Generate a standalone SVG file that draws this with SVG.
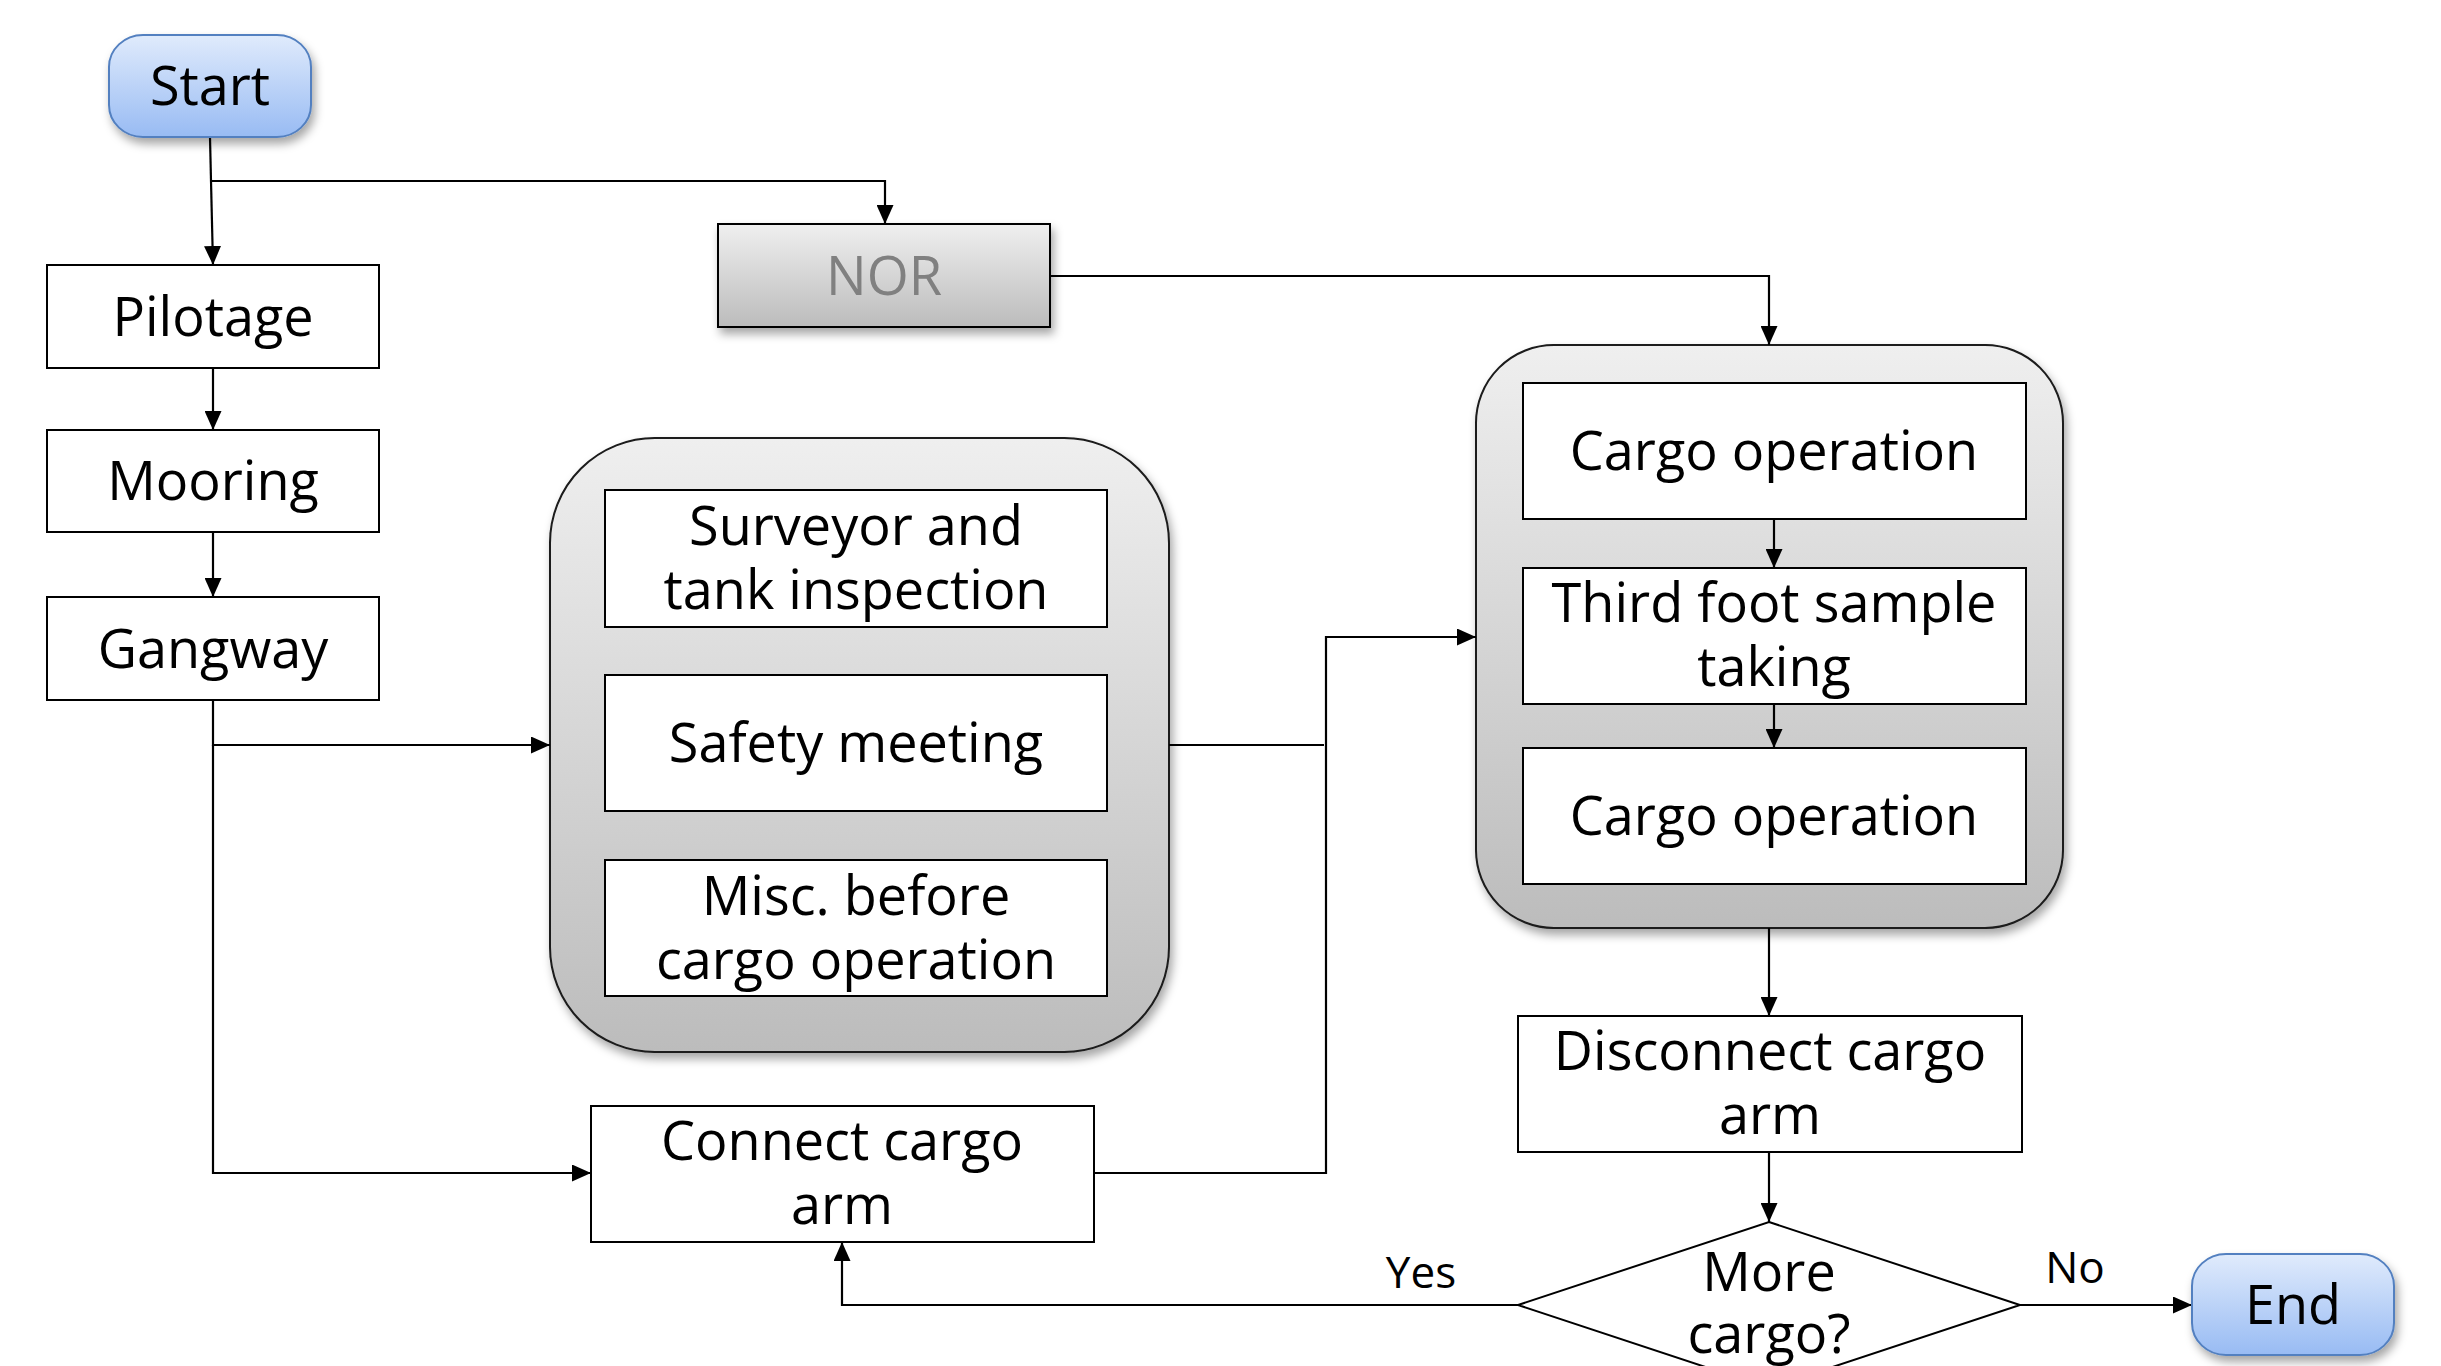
<svg xmlns="http://www.w3.org/2000/svg" width="2441" height="1366" viewBox="0 0 2441 1366">
<defs>
<linearGradient id="gBlue" x1="0" y1="0" x2="0" y2="1"><stop offset="0" stop-color="#e0ebfc"/><stop offset="1" stop-color="#98bbf3"/></linearGradient>
<linearGradient id="gGray" x1="0" y1="0" x2="0" y2="1"><stop offset="0" stop-color="#efefef"/><stop offset="1" stop-color="#bcbcbc"/></linearGradient>
<filter id="sh" x="-10%" y="-10%" width="125%" height="130%"><feDropShadow dx="3" dy="6" stdDeviation="5" flood-color="#000" flood-opacity="0.35"/></filter>
<marker id="arr" viewBox="0 0 19 17" refX="19" refY="8.5" markerWidth="19" markerHeight="17" markerUnits="userSpaceOnUse" orient="auto"><path d="M0,0 L19,8.5 L0,17 Z" fill="#000"/></marker>
</defs>
<style>
.t{font-family:"Open Sans","Liberation Sans",sans-serif;font-size:54px;fill:#000;text-anchor:middle}
.lbl{font-family:"Open Sans","Liberation Sans",sans-serif;font-size:44px;fill:#000;text-anchor:middle}
.box{fill:#fff;stroke:#000;stroke-width:2}
.grp{fill:url(#gGray);stroke:#1a1a1a;stroke-width:2;filter:url(#sh)}
.term{fill:url(#gBlue);stroke:#5380c0;stroke-width:2;filter:url(#sh)}
.c{fill:none;stroke:#000;stroke-width:2.2}
.a{marker-end:url(#arr)}
</style>
<rect width="2441" height="1366" fill="#fff"/>

<g id="group-before">
<rect class="grp" x="550" y="438" width="619" height="614" rx="105" ry="105"/>
</g>
<g id="group-cargo">
<rect class="grp" x="1476" y="345" width="587" height="583" rx="78" ry="78"/>
</g>

<g id="connectors">
<path class="c" d="M210,137 L211,181"/>
<path class="c a" d="M211,181 L213,265"/>
<path class="c a" d="M211,181 L885,181 L885,224"/>
<path class="c a" d="M1050,276 L1769,276 L1769,345"/>
<path class="c a" d="M213,368 L213,430"/>
<path class="c a" d="M213,532 L213,597"/>
<path class="c a" d="M213,700 L213,745 L550,745"/>
<path class="c a" d="M213,745 L213,1173 L591,1173"/>
<path class="c" d="M1169,745 L1324,745"/>
<path class="c a" d="M1094,1173 L1326,1173 L1326,637 L1476,637"/>
<path class="c a" d="M1774,519 L1774,568"/>
<path class="c a" d="M1774,704 L1774,748"/>
<path class="c a" d="M1769,928 L1769,1016"/>
<path class="c a" d="M1769,1152 L1769,1222"/>
<path class="c a" d="M1518,1305 L842,1305 L842,1242"/>
<path class="c a" d="M2020,1305 L2192,1305"/>
</g>

<g id="start">
<rect class="term" x="109" y="35" width="202" height="102" rx="34" ry="32"/>
<text class="t" x="210" y="105">Start</text>
</g>
<g id="pilotage">
<rect class="box" x="47" y="265" width="332" height="103"/>
<text class="t" x="213" y="336">Pilotage</text>
</g>
<g id="nor">
<rect x="718" y="224" width="332" height="103" fill="url(#gGray)" stroke="#000" stroke-width="2" filter="url(#sh)"/>
<text class="t" x="884" y="295" style="fill:#808080">NOR</text>
</g>
<g id="mooring">
<rect class="box" x="47" y="430" width="332" height="102"/>
<text class="t" x="213" y="500">Mooring</text>
</g>
<g id="gangway">
<rect class="box" x="47" y="597" width="332" height="103"/>
<text class="t" x="213" y="668">Gangway</text>
</g>
<g id="surveyor">
<rect class="box" x="605" y="490" width="502" height="137"/>
<text class="t" x="856" y="545">Surveyor and<tspan x="856" dy="64">tank inspection</tspan></text>
</g>
<g id="safety">
<rect class="box" x="605" y="675" width="502" height="136"/>
<text class="t" x="856" y="762">Safety meeting</text>
</g>
<g id="misc">
<rect class="box" x="605" y="860" width="502" height="136"/>
<text class="t" x="856" y="915">Misc. before<tspan x="856" dy="64">cargo operation</tspan></text>
</g>
<g id="connect">
<rect class="box" x="591" y="1106" width="503" height="136"/>
<text class="t" x="842" y="1160">Connect cargo<tspan x="842" dy="64">arm</tspan></text>
</g>
<g id="cargo1">
<rect class="box" x="1523" y="383" width="503" height="136"/>
<text class="t" x="1774" y="470">Cargo operation</text>
</g>
<g id="thirdfoot">
<rect class="box" x="1523" y="568" width="503" height="136"/>
<text class="t" x="1774" y="622">Third foot sample<tspan x="1774" dy="64">taking</tspan></text>
</g>
<g id="cargo2">
<rect class="box" x="1523" y="748" width="503" height="136"/>
<text class="t" x="1774" y="835">Cargo operation</text>
</g>
<g id="disconnect">
<rect class="box" x="1518" y="1016" width="504" height="136"/>
<text class="t" x="1770" y="1070">Disconnect cargo<tspan x="1770" dy="64">arm</tspan></text>
</g>
<g id="decision">
<polygon points="1769,1222 2020,1305 1769,1388 1518,1305" fill="#fff" stroke="#000" stroke-width="2"/>
<text class="t" x="1769" y="1291">More<tspan x="1769" dy="62">cargo?</tspan></text>
</g>
<g id="end">
<rect class="term" x="2192" y="1254" width="202" height="101" rx="34" ry="32"/>
<text class="t" x="2293" y="1324">End</text>
</g>
<g id="labels">
<text class="lbl" x="1421" y="1288">Yes</text>
<text class="lbl" x="2075" y="1283">No</text>
</g>
</svg>
